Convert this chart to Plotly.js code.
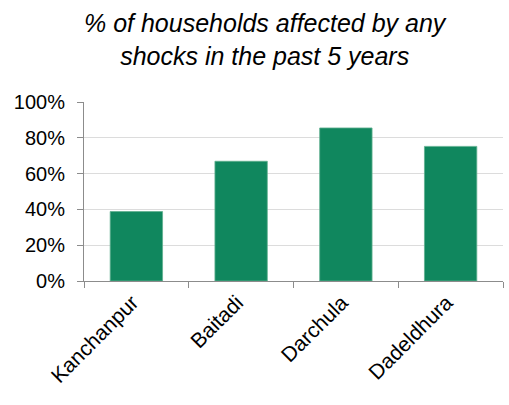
<!DOCTYPE html>
<html>
<head>
<meta charset="utf-8">
<script src="https://cdn.plot.ly/plotly-3.0.1.min.js"></script>
<style>html,body{margin:0;padding:0;background:#fff;}#chart{width:509px;height:405px;}</style>
</head>
<body>
<div id="chart"></div>
<script>
var districts = ["Kanchanpur", "Baitadi", "Darchula", "Dadeldhura"];
var shareAffected = [0.388, 0.669, 0.855, 0.752];
var yTickValues = [0, 0.2, 0.4, 0.6, 0.8, 1.0];
var chartTitle = "% of households affected by any<br>shocks in the past 5 years";

var data = [{
  type: "bar",
  x: districts,
  y: shareAffected,
  marker: {color: "#10875E", line: {color: "#5fb08f", width: 0.8}},
  hoverinfo: "none"
}];

var layout = {
  width: 509, height: 405,
  margin: {l: 84, r: 6, t: 102, b: 124, pad: 0},
  paper_bgcolor: "#ffffff",
  plot_bgcolor: "#ffffff",
  font: {family: "Liberation Sans, Arial, sans-serif", color: "#000000", size: 20},
  title: {
    text: chartTitle,
    font: {family: "Liberation Sans, Arial, sans-serif", size: 25, color: "#000000", style: "italic"},
    x: 0.52, xanchor: "center",
    y: 0.92, yanchor: "top", yref: "container"
  },
  bargap: 0.5,
  showlegend: false,
  xaxis: {
    type: "category",
    tickson: "boundaries",
    ticks: "outside", ticklen: 6, tickcolor: "#8c8c8c", tickwidth: 1,
    showline: true, linecolor: "#8c8c8c", linewidth: 1,
    showgrid: false,
    tickangle: -45,
    ticklabelshift: -4,
    tickfont: {size: 21, color: "#000000"}
  },
  yaxis: {
    range: [0, 1],
    tickvals: yTickValues,
    tickformat: ".0%",
    ticks: "outside", ticklen: 6, tickcolor: "#8c8c8c", tickwidth: 1,
    showline: true, linecolor: "#8c8c8c", linewidth: 1,
    showgrid: true, gridcolor: "#dcdcdc", gridwidth: 1,
    zeroline: false,
    ticklabelstandoff: 8,
    tickfont: {size: 20, color: "#000000"}
  }
};

Plotly.newPlot("chart", data, layout, {displayModeBar: false, staticPlot: true});
</script>
</body>
</html>
